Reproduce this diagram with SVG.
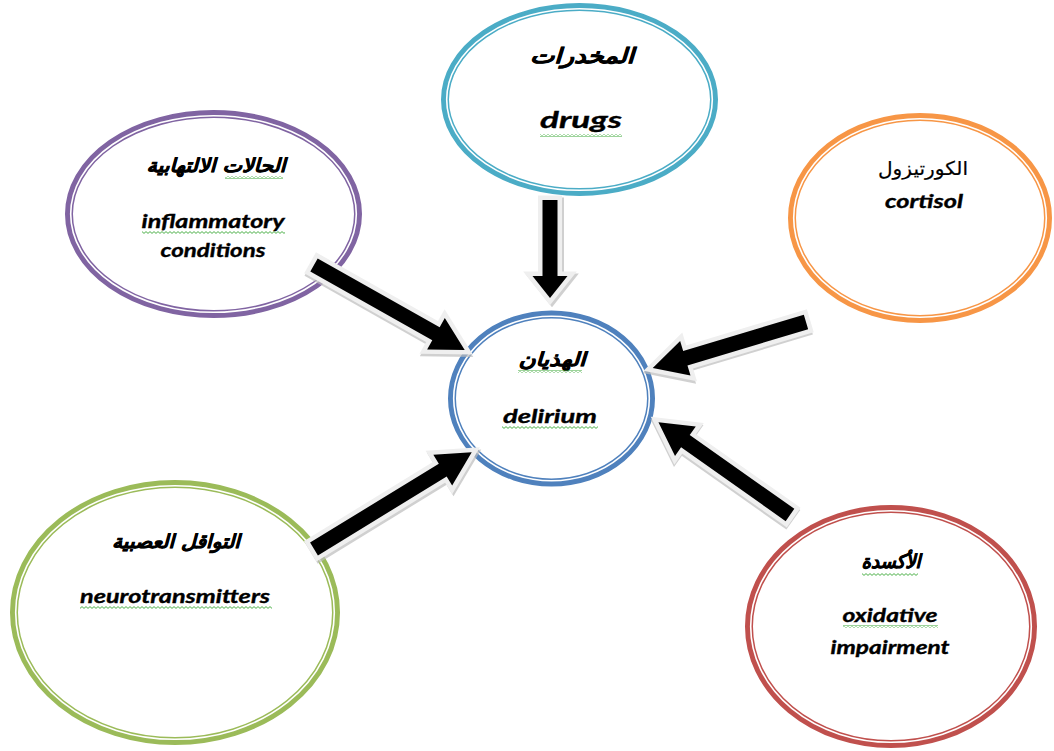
<svg xmlns="http://www.w3.org/2000/svg" width="1054" height="751" viewBox="0 0 1054 751">
<defs>
<style>
.ring{fill:#fff;stroke-width:8}
.gap{fill:none;stroke:#fff;stroke-width:1.6}
.en{font-family:Lato,"Liberation Sans",sans-serif;font-weight:bold;font-style:italic;font-size:19px;fill:#000;stroke:#000;stroke-width:0.35;text-anchor:middle}
.ar{font-family:"DejaVu Sans",sans-serif;font-weight:bold;font-style:italic;font-size:19px;fill:#000;stroke:#000;stroke-width:0.5;text-anchor:middle}
.arr{fill:#000;stroke:#efefef;stroke-width:9;stroke-linejoin:miter;paint-order:stroke}
.sh{fill:#bdbdbd;stroke:#bdbdbd;stroke-width:9;opacity:0.7}
.sq{fill:url(#squig)}
</style>
<pattern id="squig" patternUnits="userSpaceOnUse" width="4" height="3">
<polyline points="0,2.4 2,0.6 4,2.4" fill="none" stroke="#3aa835" stroke-width="0.9"/>
</pattern>
</defs>
<rect width="1054" height="751" fill="#fff"/>

<g id="node-drugs">
<ellipse class="ring" cx="579.5" cy="99.5" rx="134.5" ry="92.5" stroke="#4BACC6"/>
<ellipse class="gap" cx="579.5" cy="99.5" rx="132.8" ry="90.8"/>
<text class="ar" x="582" y="63" style="font-size:21px" textLength="104" lengthAdjust="spacingAndGlyphs">المخدرات</text>
<text class="en" x="581" y="128" style="font-size:23px" textLength="82" lengthAdjust="spacingAndGlyphs">drugs</text>
<rect class="sq" x="540" y="134" width="82" height="3"/>
</g>

<g id="node-inflammatory">
<ellipse class="ring" cx="213.5" cy="214" rx="144.5" ry="100" stroke="#8064A2"/>
<ellipse class="gap" cx="213.5" cy="214" rx="142.8" ry="98.3"/>
<text class="ar" x="216" y="172" textLength="139" lengthAdjust="spacingAndGlyphs">الحالات الالتهابية</text>
<rect class="sq" x="225" y="176" width="58" height="3"/>
<text class="en" x="213" y="228" textLength="143" lengthAdjust="spacingAndGlyphs">inflammatory</text>
<rect class="sq" x="142" y="231" width="143" height="3"/>
<text class="en" x="213" y="257" textLength="105" lengthAdjust="spacingAndGlyphs">conditions</text>
</g>

<g id="node-cortisol">
<ellipse class="ring" cx="920" cy="218" rx="128" ry="101" stroke="#F79646"/>
<ellipse class="gap" cx="920" cy="218" rx="126.3" ry="99.3"/>
<text class="ar" x="923" y="175" style="font-weight:normal;font-style:normal;stroke-width:0.2" textLength="90" lengthAdjust="spacingAndGlyphs">الكورتيزول</text>
<text class="en" x="924" y="208" textLength="78" lengthAdjust="spacingAndGlyphs">cortisol</text>
</g>

<g id="node-delirium">
<ellipse class="ring" cx="551.5" cy="398.5" rx="99.5" ry="84" stroke="#4F81BD"/>
<ellipse class="gap" cx="551.5" cy="398.5" rx="97.8" ry="82.3"/>
<text class="ar" x="552" y="366" textLength="67" lengthAdjust="spacingAndGlyphs">الهذيان</text>
<rect class="sq" x="518" y="370" width="64" height="3"/>
<text class="en" x="550" y="423" textLength="94" lengthAdjust="spacingAndGlyphs">delirium</text>
<rect class="sq" x="502" y="426" width="96" height="3"/>
</g>

<g id="node-neurotransmitters">
<ellipse class="ring" cx="175" cy="612.5" rx="161" ry="128.5" stroke="#9BBB59"/>
<ellipse class="gap" cx="175" cy="612.5" rx="159.3" ry="126.8"/>
<text class="ar" x="176" y="548" textLength="128" lengthAdjust="spacingAndGlyphs">التواقل العصبية</text>
<text class="en" x="175" y="603" textLength="190" lengthAdjust="spacingAndGlyphs">neurotransmitters</text>
<rect class="sq" x="80" y="606" width="192" height="3"/>
</g>

<g id="node-oxidative">
<ellipse class="ring" cx="891" cy="626.5" rx="142" ry="117.5" stroke="#C0504D"/>
<ellipse class="gap" cx="891" cy="626.5" rx="140.3" ry="115.8"/>
<text class="ar" x="891" y="568" textLength="59" lengthAdjust="spacingAndGlyphs">الأكسدة</text>
<rect class="sq" x="862" y="573" width="56" height="3"/>
<text class="en" x="890" y="622" textLength="95" lengthAdjust="spacingAndGlyphs">oxidative</text>
<rect class="sq" x="843" y="625" width="95" height="3"/>
<text class="en" x="890" y="654" textLength="119" lengthAdjust="spacingAndGlyphs">impairment</text>
</g>

<g id="connectors">
<g transform="translate(550,200) rotate(90)">
<polygon class="sh" transform="translate(2,-2)" points="0,-7.5 76,-7.5 76,-17.5 98,0 76,17.5 76,7.5 0,7.5"/>
<polygon class="arr" points="0,-7.5 76,-7.5 76,-17.5 98,0 76,17.5 76,7.5 0,7.5"/>
</g>
<g transform="translate(314,265) rotate(29.4)">
<polygon class="sh" transform="translate(1.5,2)" points="0,-7.5 140,-7.5 140,-18 173,0 140,18 140,7.5 0,7.5"/>
<polygon class="arr" points="0,-7.5 140,-7.5 140,-18 173,0 140,18 140,7.5 0,7.5"/>
</g>
<g transform="translate(806,322) rotate(163.3)">
<polygon class="sh" transform="translate(1.5,-2)" points="0,-7.5 126,-7.5 126,-18 160,0 126,18 126,7.5 0,7.5"/>
<polygon class="arr" points="0,-7.5 126,-7.5 126,-18 160,0 126,18 126,7.5 0,7.5"/>
</g>
<g transform="translate(790,515) rotate(-144.8)">
<polygon class="sh" transform="translate(-1,-2)" points="0,-7.5 128,-7.5 128,-18 161,0 128,18 128,7.5 0,7.5"/>
<polygon class="arr" points="0,-7.5 128,-7.5 128,-18 161,0 128,18 128,7.5 0,7.5"/>
</g>
<g transform="translate(314,549) rotate(-31.5)">
<polygon class="sh" transform="translate(0,2.5)" points="0,-7.5 151,-7.5 151,-18 185,0 151,18 151,7.5 0,7.5"/>
<polygon class="arr" points="0,-7.5 151,-7.5 151,-18 185,0 151,18 151,7.5 0,7.5"/>
</g>
</g>
</svg>
